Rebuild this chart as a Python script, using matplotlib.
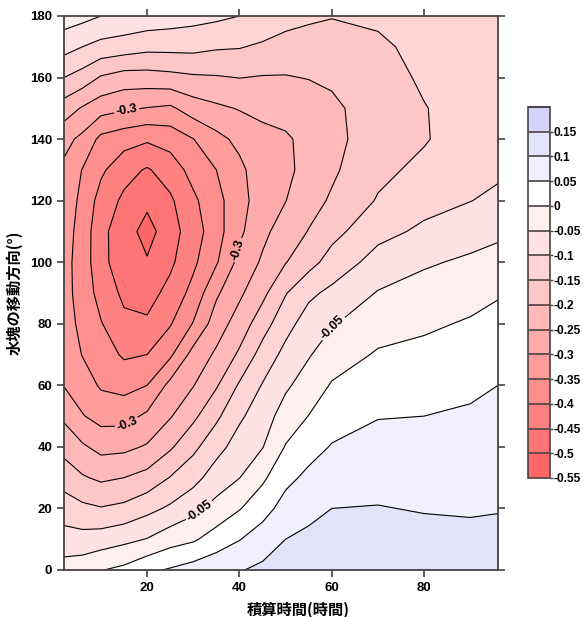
import numpy as np
import matplotlib
matplotlib.use("Agg")
import matplotlib.pyplot as plt

plt.rcParams["font.family"] = ["Liberation Sans", "DejaVu Sans"]
plt.rcParams["axes.unicode_minus"] = False
plt.rcParams["contour.negative_linestyle"] = "solid"

# grid
hours = [2, 6, 10, 15, 20, 25, 30, 35, 40, 45, 50, 55, 60, 70, 80, 90, 96]
angles = [0, 10, 20, 30, 40, 50, 60, 70, 80, 90, 100, 110, 120, 130, 140, 150, 160, 170, 180]
values = [
    [-0.028, -0.020, -0.002, 0.012, 0.040, 0.055, 0.071, 0.085, 0.097, 0.110, 0.115, 0.120, 0.125, 0.135, 0.130, 0.128, 0.130],
    [-0.080, -0.082, -0.076, -0.063, -0.048, -0.021, -0.007, 0.023, 0.048, 0.074, 0.100, 0.110, 0.115, 0.120, 0.115, 0.112, 0.110],
    [-0.125, -0.139, -0.147, -0.138, -0.115, -0.092, -0.064, -0.034, -0.003, 0.031, 0.069, 0.087, 0.100, 0.102, 0.097, 0.095, 0.098],
    [-0.171, -0.195, -0.209, -0.200, -0.183, -0.148, -0.117, -0.076, -0.051, -0.009, 0.037, 0.061, 0.076, 0.084, 0.078, 0.080, 0.085],
    [-0.217, -0.243, -0.265, -0.262, -0.245, -0.207, -0.162, -0.117, -0.079, -0.052, 0.003, 0.032, 0.053, 0.066, 0.064, 0.068, 0.073],
    [-0.259, -0.297, -0.318, -0.318, -0.291, -0.254, -0.211, -0.160, -0.108, -0.074, -0.028, 0.001, 0.029, 0.048, 0.050, 0.056, 0.062],
    [-0.302, -0.326, -0.356, -0.366, -0.350, -0.286, -0.252, -0.205, -0.144, -0.097, -0.058, -0.027, 0.004, 0.027, 0.031, 0.041, 0.050],
    [-0.318, -0.352, -0.376, -0.407, -0.400, -0.359, -0.282, -0.242, -0.192, -0.130, -0.086, -0.054, -0.024, 0.005, 0.013, 0.023, 0.032],
    [-0.330, -0.362, -0.397, -0.439, -0.442, -0.404, -0.347, -0.274, -0.228, -0.172, -0.117, -0.078, -0.054, -0.020, -0.008, 0.005, 0.014],
    [-0.335, -0.368, -0.420, -0.460, -0.470, -0.434, -0.384, -0.308, -0.259, -0.213, -0.153, -0.110, -0.089, -0.047, -0.031, -0.017, -0.004],
    [-0.335, -0.370, -0.437, -0.475, -0.495, -0.460, -0.410, -0.355, -0.285, -0.243, -0.202, -0.168, -0.130, -0.081, -0.056, -0.042, -0.032],
    [-0.330, -0.368, -0.438, -0.475, -0.520, -0.470, -0.425, -0.370, -0.310, -0.262, -0.227, -0.198, -0.166, -0.115, -0.091, -0.070, -0.060],
    [-0.322, -0.362, -0.420, -0.460, -0.488, -0.458, -0.410, -0.365, -0.320, -0.272, -0.251, -0.218, -0.194, -0.146, -0.116, -0.101, -0.090],
    [-0.310, -0.352, -0.391, -0.432, -0.455, -0.427, -0.382, -0.350, -0.312, -0.270, -0.262, -0.232, -0.208, -0.162, -0.138, -0.114, -0.108],
    [-0.285, -0.312, -0.363, -0.380, -0.393, -0.380, -0.351, -0.315, -0.287, -0.262, -0.256, -0.237, -0.215, -0.172, -0.154, -0.124, -0.118],
    [-0.224, -0.255, -0.280, -0.293, -0.302, -0.309, -0.275, -0.259, -0.247, -0.240, -0.233, -0.228, -0.210, -0.175, -0.152, -0.130, -0.124],
    [-0.150, -0.171, -0.205, -0.222, -0.221, -0.215, -0.207, -0.204, -0.199, -0.203, -0.203, -0.198, -0.192, -0.170, -0.143, -0.132, -0.128],
    [-0.081, -0.100, -0.116, -0.124, -0.135, -0.135, -0.135, -0.144, -0.147, -0.158, -0.168, -0.168, -0.170, -0.158, -0.137, -0.132, -0.128],
    [-0.025, -0.035, -0.050, -0.060, -0.068, -0.075, -0.083, -0.090, -0.100, -0.110, -0.132, -0.143, -0.148, -0.142, -0.133, -0.130, -0.128],
]
levels = [-0.55, -0.5, -0.45, -0.4, -0.35, -0.3, -0.25, -0.2, -0.15, -0.1, -0.05, 0.0, 0.05, 0.1, 0.15, 0.2]
label_levels = [-0.3, -0.05]
band_colors = ["#ff6666", "#ff7474", "#ff8282", "#ff8f8f", "#ff9d9d", "#ffabab",
               "#ffb9b9", "#ffc6c6", "#ffd4d4", "#ffe2e2", "#fff0f0", "#ffffff",
               "#f0f0ff", "#e2e2fa", "#d4d4fa"]


def main():
    X, Y = np.meshgrid(hours, angles)
    Z = np.array(values)

    fig = plt.figure(figsize=(5.83, 6.17), dpi=100)
    ax = fig.add_axes([0.1098, 0.0762, 0.7444, 0.8979])
    cax = fig.add_axes([0.9057, 0.2253, 0.0377, 0.6013])

    cf = ax.contourf(X, Y, Z, levels=levels, colors=band_colors)
    other = [lv for lv in levels if lv not in label_levels]
    ax.contour(X, Y, Z, levels=other, colors="black", linewidths=0.8,
               linestyles="solid")
    cs = ax.contour(X, Y, Z, levels=label_levels, colors="black", linewidths=0.8,
                    linestyles="solid")
    labels = ax.clabel(cs, fmt=lambda v: f"{v:g}", fontsize=9,
                       inline=True, inline_spacing=2,
                       manual=[(15.5, 150), (39.5, 104), (16, 46.5), (60, 79), (31.5, 18.8)])
    for t in labels:
        t.set_fontweight("bold")

    ax.set_xlim(2, 96)
    ax.set_ylim(0, 180)
    ax.set_xticks([20, 40, 60, 80])
    ax.set_yticks(range(0, 181, 20))
    ax.tick_params(direction="out", length=5, width=1.2, labelsize=9.5,
                   top=True, right=True, labeltop=False, labelright=False,
                   color="#4a4242")
    for lab in ax.get_xticklabels() + ax.get_yticklabels():
        lab.set_fontweight("bold")
    for sp in ax.spines.values():
        sp.set_color("#4a4242")
        sp.set_linewidth(1.3)

    ax.set_xlabel("積算時間(時間)", family=["Noto Sans CJK JP", "DejaVu Sans"],
                  fontsize=11, fontweight="bold")
    ax.xaxis.set_label_coords(0.539, -0.058)
    ax.set_ylabel("水塊の移動方向(°)", family=["Noto Sans CJK JP", "DejaVu Sans"],
                  fontsize=11, fontweight="bold", labelpad=5)

    cb = fig.colorbar(cf, cax=cax, ticks=levels[:-1], drawedges=True)
    cb.ax.set_yticklabels([f"{v:g}" for v in levels[:-1]])
    cb.outline.set_edgecolor("#4a4242")
    cb.outline.set_linewidth(1.2)
    cb.dividers.set_color("#4a4242")
    cb.dividers.set_linewidth(1.2)
    cb.ax.tick_params(length=2, width=1, labelsize=8.6, pad=0.5, color="#4a4242")
    for lab in cb.ax.get_yticklabels():
        lab.set_fontweight("bold")

    plt.savefig("out.png", dpi=100)


if __name__ == "__main__":
    main()
